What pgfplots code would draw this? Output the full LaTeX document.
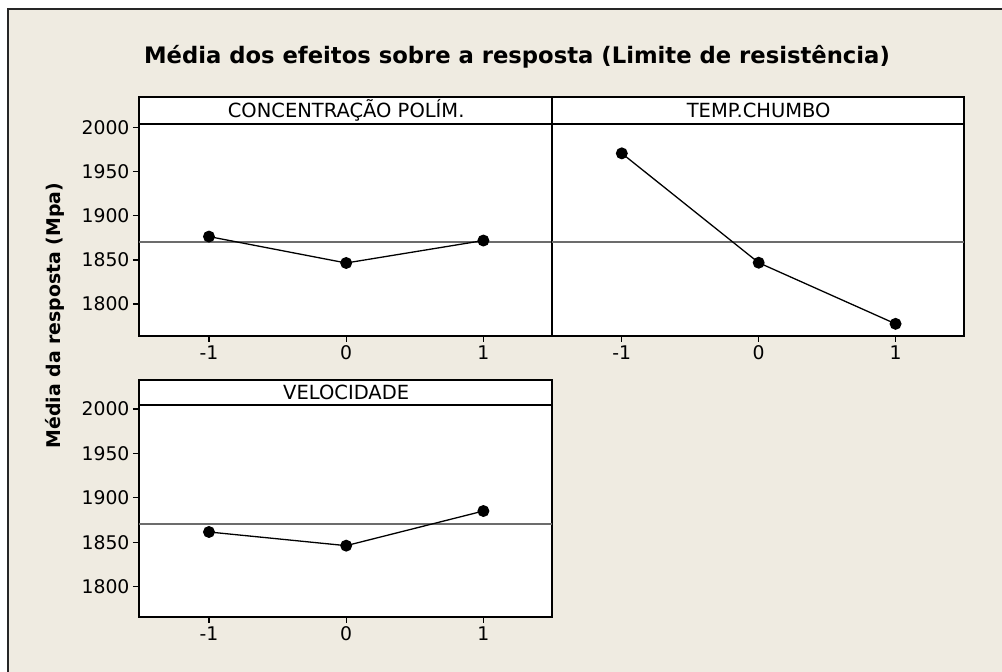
\documentclass[border=0pt]{standalone}
\usepackage{fontspec}
\setmainfont{DejaVu Sans}
\usepackage{pgfplots}
\pgfplotsset{compat=1.18}
\definecolor{bgbeige}{HTML}{EFEBE1}

% mean response levels (-1, 0, 1)
\def\grandmean{1870.5}

\pgfplotsset{
  panel/.style={
    scale only axis, width=413pt, height=239pt,
    xmin=-1.51, xmax=1.5, ymin=1763.6, ymax=2035,
    axis background/.style={fill=white},
    axis line style={line width=1.5pt},
    xtick={-1,0,1}, xticklabels={-1,0,1},
    ytick={1800,1850,1900,1950,2000},
    xtick pos=bottom, ytick pos=left,
    tick align=outside, major tick length=6pt,
    every tick/.style={black, line width=1.2pt},
    tick label style={font=\fontsize{18.8}{21}\selectfont},
    /pgf/number format/1000 sep={},
    /pgf/number format/assume math mode=true,
    clip=false,
  },
  meanline/.style={gray!85!black, line width=1.3pt, forget plot},
  effect/.style={black, line width=1.3pt, mark=*, mark size=5.3pt},
}

\begin{document}
\begin{tikzpicture}[x=1pt,y=1pt]
\clip (0,0) rectangle (1002,672);
\fill[white] (0,0) rectangle (1002,672);
\filldraw[fill=bgbeige, draw=black!85, line width=2pt] (8,-10) rectangle (1012,663);

\node[font=\fontsize{22.7}{27}\selectfont\bfseries] at (517,615)
  {Média dos efeitos sobre a resposta (Limite de resistência)};
\node[font=\fontsize{18.9}{22}\selectfont\bfseries, rotate=90] at (55,356.5)
  {Média da resposta (Mpa)};

% CONCENTRACAO POLIM.
\begin{axis}[panel, at={(139pt,336pt)}, anchor=south west]
\addplot[meanline] coordinates {(-1.51,\grandmean) (1.5,\grandmean)};
\addplot[effect] coordinates {(-1,1876.5) (0,1846.5) (1,1872)};
\draw[line width=1.5pt] (axis cs:-1.51,2004.5) -- (axis cs:1.5,2004.5);
\node[font=\fontsize{19.5}{22}\selectfont] at (axis cs:0,2019.7) {CONCENTRAÇÃO POLÍM.};
\end{axis}

% TEMP.CHUMBO
\begin{axis}[panel, width=412pt, at={(552pt,336pt)}, anchor=south west, ytick=\empty]
\addplot[meanline] coordinates {(-1.51,\grandmean) (1.5,\grandmean)};
\addplot[effect] coordinates {(-1,1971) (0,1846.8) (1,1777.4)};
\draw[line width=1.5pt] (axis cs:-1.51,2004.5) -- (axis cs:1.5,2004.5);
\node[font=\fontsize{19.5}{22}\selectfont] at (axis cs:0,2019.7) {TEMP.CHUMBO};
\end{axis}

% VELOCIDADE
\begin{axis}[panel, height=237pt, ymin=1765.9, ymax=2032.7, at={(139pt,55pt)}, anchor=south west]
\addplot[meanline] coordinates {(-1.51,\grandmean) (1.5,\grandmean)};
\addplot[effect] coordinates {(-1,1861.6) (0,1846.2) (1,1885.2)};
\draw[line width=1.5pt] (axis cs:-1.51,2004.5) -- (axis cs:1.5,2004.5);
\node[font=\fontsize{19.5}{22}\selectfont] at (axis cs:0,2018.6) {VELOCIDADE};
\end{axis}
\end{tikzpicture}
\end{document}
